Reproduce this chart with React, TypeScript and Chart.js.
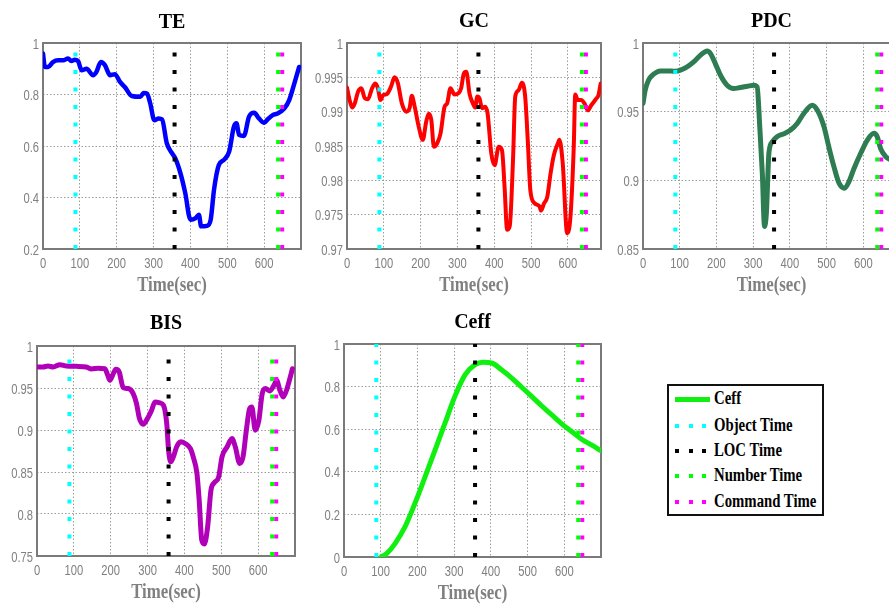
import React, { useEffect, useRef } from "react";
import { Chart, registerables } from "chart.js";
Chart.register(...registerables);

// ---------- data ----------
const TE_T = [0, 5, 14, 27, 41, 55, 68, 77, 86, 95, 105, 118, 136, 145, 157, 168, 182, 195, 209, 223, 241, 264, 273, 282, 291, 302, 314, 323, 336, 350, 359, 373, 386, 400, 414, 423, 429, 445, 455, 464, 477, 491, 505, 518, 525, 532, 545, 559, 573, 586, 600, 609, 623, 636, 655, 668, 682, 695];
const TE_V = [0.959, 0.907, 0.907, 0.926, 0.933, 0.933, 0.94, 0.93, 0.935, 0.93, 0.894, 0.9, 0.875, 0.888, 0.926, 0.914, 0.875, 0.879, 0.849, 0.827, 0.794, 0.791, 0.806, 0.804, 0.765, 0.7, 0.707, 0.703, 0.61, 0.572, 0.552, 0.494, 0.417, 0.314, 0.32, 0.333, 0.288, 0.29, 0.314, 0.43, 0.526, 0.546, 0.578, 0.675, 0.688, 0.643, 0.639, 0.714, 0.729, 0.707, 0.69, 0.703, 0.72, 0.726, 0.746, 0.778, 0.843, 0.907];

const GC_T = [0, 7, 14, 21, 30, 39, 48, 57, 68, 77, 84, 91, 98, 109, 120, 129, 138, 149, 161, 170, 176, 184, 194, 206, 215, 222, 229, 236, 245, 254, 265, 272, 281, 292, 303, 310, 317, 324, 333, 342, 348, 354, 360, 367, 375, 382, 392, 401, 412, 421, 428, 435, 442, 451, 457, 466, 475, 484, 491, 498, 509, 523, 527, 535, 544, 553, 562, 573, 577, 586, 598, 607, 616, 620, 627, 636, 645, 654, 663, 677, 683, 689];
const GC_V = [0.9935, 0.9917, 0.9906, 0.9912, 0.9929, 0.9934, 0.992, 0.9918, 0.9934, 0.9941, 0.9934, 0.9917, 0.9924, 0.9926, 0.9937, 0.995, 0.9942, 0.9912, 0.99, 0.9905, 0.9923, 0.9907, 0.988, 0.9859, 0.9885, 0.9897, 0.9888, 0.9849, 0.9854, 0.9868, 0.9907, 0.9912, 0.9934, 0.9925, 0.9927, 0.9934, 0.9955, 0.9958, 0.9926, 0.9912, 0.9906, 0.9922, 0.9919, 0.9905, 0.9907, 0.9897, 0.9839, 0.9822, 0.9849, 0.9844, 0.9791, 0.9728, 0.9733, 0.983, 0.9922, 0.9931, 0.9942, 0.9922, 0.9859, 0.9786, 0.9767, 0.9762, 0.9756, 0.9766, 0.9776, 0.981, 0.9837, 0.9854, 0.9859, 0.9825, 0.9723, 0.9747, 0.9849, 0.9925, 0.9917, 0.9917, 0.9912, 0.9902, 0.9909, 0.9919, 0.9924, 0.9941];

const PDC_T = [0, 6, 15, 29, 47, 65, 88, 102, 120, 138, 156, 175, 184, 197, 211, 229, 247, 265, 284, 302, 311, 318, 325, 331, 336, 343, 352, 365, 384, 402, 420, 438, 461, 475, 493, 506, 520, 534, 549, 561, 575, 593, 611, 629, 638, 647, 661, 672, 690];
const PDC_V = [0.956, 0.9656, 0.9729, 0.9773, 0.9797, 0.9797, 0.9794, 0.9802, 0.9826, 0.9862, 0.991, 0.9942, 0.9923, 0.985, 0.9765, 0.9693, 0.9669, 0.9676, 0.9685, 0.9693, 0.968, 0.939, 0.905, 0.8664, 0.876, 0.92, 0.928, 0.9318, 0.934, 0.9366, 0.9414, 0.9487, 0.9547, 0.951, 0.939, 0.9245, 0.91, 0.898, 0.8943, 0.899, 0.9088, 0.9197, 0.9293, 0.9342, 0.9318, 0.9233, 0.9173, 0.9153, 0.913];

const BIS_T = [0, 16, 30, 44, 62, 80, 107, 134, 148, 166, 184, 192, 198, 205, 214, 223, 234, 248, 261, 270, 278, 288, 302, 311, 320, 334, 343, 352, 357, 363, 370, 379, 390, 402, 416, 425, 434, 440, 447, 454, 463, 472, 481, 493, 502, 516, 529, 538, 550, 559, 568, 577, 583, 592, 602, 611, 620, 632, 643, 650, 659, 668, 677, 686, 693];
const BIS_V = [0.975, 0.975, 0.9762, 0.975, 0.9778, 0.9762, 0.9758, 0.975, 0.9727, 0.9735, 0.973, 0.9651, 0.9592, 0.9651, 0.9723, 0.9691, 0.9505, 0.9493, 0.9433, 0.9315, 0.9136, 0.9069, 0.9156, 0.9235, 0.9334, 0.9322, 0.9295, 0.9077, 0.876, 0.8621, 0.868, 0.88, 0.8859, 0.8839, 0.878, 0.8661, 0.8483, 0.8166, 0.769, 0.7643, 0.7849, 0.8284, 0.8372, 0.8443, 0.8681, 0.88, 0.8899, 0.88, 0.8601, 0.868, 0.8998, 0.9255, 0.9275, 0.8998, 0.9116, 0.9433, 0.9493, 0.9465, 0.9533, 0.9592, 0.9473, 0.9394, 0.9473, 0.9612, 0.973];

const CEFF_T = [101, 116, 139, 166, 193, 221, 248, 275, 302, 330, 357, 379, 402, 429, 457, 484, 511, 538, 566, 593, 620, 647, 674, 700];
const CEFF_V = [0, 0.0157, 0.063, 0.141, 0.251, 0.377, 0.502, 0.628, 0.754, 0.856, 0.903, 0.914, 0.911, 0.879, 0.84, 0.797, 0.754, 0.71, 0.667, 0.625, 0.589, 0.553, 0.526, 0.499];

const MARKER_NAMES = ["Object Time", "LOC Time", "Number Time", "Command Time"];
const MARKER_TIMES = [88, 357, 638, 649];
const MARKER_COLORS = ["#00ffff", "#000000", "#00ff00", "#ff00ff"];

const X_TICKS = [0, 100, 200, 300, 400, 500, 600];
const X_LABEL = "Time(sec)";

// ---------- styling / layout ----------
const SANS = "'Liberation Sans', Arial, sans-serif";
const SERIF = "'Liberation Serif', 'Times New Roman', serif";
const GRAY = "#808080";
const SQUEEZE = 0.8;

type Panel = {
  title: string; t: number[]; v: number[]; color: string; lw: number;
  yMin: number; yMax: number; yStep: number; xMax: number;
  box: number[]; area: number[]; titleY: number;
};

const PANELS: Panel[] = [
  { title: "TE", t: TE_T, v: TE_V, color: "#0000ff", lw: 4.5, yMin: 0.2, yMax: 1, yStep: 0.2, xMax: 700, box: [0, 0, 310, 298], area: [43, 43, 301, 249], titleY: 23 },
  { title: "GC", t: GC_T, v: GC_V, color: "#ff0000", lw: 4, yMin: 0.97, yMax: 1, yStep: 0.005, xMax: 690, box: [305, 0, 300, 298], area: [347, 43, 601, 249], titleY: 22 },
  { title: "PDC", t: PDC_T, v: PDC_V, color: "#2e7d52", lw: 5, yMin: 0.85, yMax: 1, yStep: 0.05, xMax: 700, box: [600, 0, 305, 298], area: [643, 43, 900, 249], titleY: 22 },
  { title: "BIS", t: BIS_T, v: BIS_V, color: "#b000b8", lw: 5, yMin: 0.75, yMax: 1, yStep: 0.05, xMax: 700, box: [0, 300, 300, 306], area: [37, 346, 295, 556], titleY: 324 },
  { title: "Ceff", t: CEFF_T, v: CEFF_V, color: "#10f010", lw: 5, yMin: 0, yMax: 1, yStep: 0.2, xMax: 700, box: [300, 300, 310, 306], area: [344, 344, 601, 557], titleY: 323 },
];

const fmt = (v: number) => String(parseFloat(Number(v).toFixed(4)));

function squeezed(ctx: CanvasRenderingContext2D, s: string, x: number, y: number, k: number) {
  ctx.save();
  ctx.translate(x, y);
  ctx.scale(k, 1);
  ctx.fillText(s, 0, 0);
  ctx.restore();
}

const framePlugin = {
  id: "frame",
  beforeDatasetsDraw(chart: any) {
    const { ctx, chartArea: a } = chart;
    ctx.save();
    ctx.strokeStyle = "#7a7a7a";
    ctx.lineWidth = 2;
    ctx.strokeRect(a.left, a.top, a.right - a.left, a.bottom - a.top);
    ctx.restore();
  },
  afterDraw(chart: any, _args: any, opts: any) {
    const { ctx, chartArea: a, scales } = chart;
    const xs = scales.x, ys = scales.y;
    ctx.save();
    // tick labels
    ctx.fillStyle = GRAY;
    ctx.font = `14px ${SANS}`;
    ctx.textBaseline = "alphabetic";
    ctx.textAlign = "center";
    for (const v of X_TICKS) {
      squeezed(ctx, String(v), xs.getPixelForValue(v), a.bottom + 19, SQUEEZE);
    }
    ctx.textAlign = "right";
    for (const tk of ys.ticks) {
      squeezed(ctx, fmt(tk.value), a.left - 4, ys.getPixelForValue(tk.value) + 5.5, SQUEEZE);
    }
    // axis title
    ctx.font = `bold 20px ${SERIF}`;
    ctx.textAlign = "center";
    squeezed(ctx, X_LABEL, (a.left + a.right) / 2, a.bottom + 41.5, 0.84);
    // panel title
    ctx.fillStyle = "#000";
    ctx.font = `bold 20px ${SERIF}`;
    ctx.textBaseline = "middle";
    ctx.fillText(opts.text, (a.left + a.right) / 2, opts.y);
    ctx.restore();
  },
};

function PanelChart({ p }: { p: Panel }) {
  const ref = useRef<HTMLCanvasElement | null>(null);
  useEffect(() => {
    const [bl, bt, bw, bh] = p.box;
    const [l, t, r, b] = p.area;
    const aL = l - bl, aT = t - bt, aR = r - bl, aB = b - bt;
    const xH = 8;
    const gridStyle = { color: "#9c9c9c", drawTicks: false, lineWidth: 1 };
    const borderStyle = { display: false, dash: [1.5, 2] };
    const yTicks: number[] = [];
    for (let v = p.yMin; v <= p.yMax + 1e-9; v += p.yStep) yTicks.push(parseFloat(v.toFixed(4)));
    const chart = new Chart(ref.current as HTMLCanvasElement, {
      type: "line",
      data: {
        datasets: [
          ...MARKER_TIMES.map((mt, i) => ({
            label: MARKER_NAMES[i],
            data: [{ x: mt, y: p.yMin }, { x: mt, y: p.yMax }],
            borderColor: MARKER_COLORS[i],
            borderWidth: 4,
            borderDash: [4, 13.5],
            borderCapStyle: "butt",
            pointRadius: 0,
            tension: 0,
            order: 0,
          })),
          {
            label: p.title,
            data: p.t.map((x, i) => ({ x, y: p.v[i] })),
            borderColor: p.color,
            borderWidth: p.lw,
            pointRadius: 0,
            cubicInterpolationMode: "monotone",
            borderJoinStyle: "round",
            borderCapStyle: "round",
            order: 1,
          },
        ],
      } as any,
      options: {
        animation: false,
        responsive: false,
        maintainAspectRatio: false,
        devicePixelRatio: 1,
        events: [],
        layout: { autoPadding: false, padding: { left: 0, top: aT, right: bw - aR, bottom: bh - aB - xH } },
        plugins: {
          legend: { display: false },
          tooltip: { enabled: false },
          frame: { text: p.title, y: p.titleY - bt },
        } as any,
        scales: {
          x: {
            type: "linear",
            min: 0,
            max: p.xMax,
            afterFit: (s: any) => { s.height = xH; },
            afterBuildTicks: (s: any) => { s.ticks = X_TICKS.map((v) => ({ value: v })); },
            ticks: { display: false },
            grid: gridStyle,
            border: borderStyle,
          },
          y: {
            type: "linear",
            min: p.yMin,
            max: p.yMax,
            afterFit: (s: any) => { s.width = aL; },
            afterBuildTicks: (s: any) => { s.ticks = yTicks.map((v) => ({ value: v })); },
            ticks: { display: false },
            grid: gridStyle,
            border: borderStyle,
          },
        },
      } as any,
      plugins: [framePlugin as any],
    });
    return () => chart.destroy();
  }, [p]);
  const [bl, bt, bw, bh] = p.box;
  return (
    <canvas
      ref={ref}
      width={bw}
      height={bh}
      style={{ position: "absolute", left: bl, top: bt, width: bw, height: bh }}
    />
  );
}

const LEGEND_LABELS = ["Ceff", ...MARKER_NAMES];
const LEGEND_COLORS = ["#10f010", ...MARKER_COLORS];

function Legend() {
  const rowCenters = [13, 40, 65, 90, 116];
  return (
    <div
      style={{
        position: "absolute", left: 667, top: 384, width: 157, height: 132,
        border: "2px solid #111", boxSizing: "border-box", background: "#fff",
      }}
    >
      {LEGEND_LABELS.map((lab, i) => (
        <div key={lab} style={{ position: "absolute", left: 0, top: rowCenters[i] - 11, height: 22, width: 150 }}>
          {i === 0 ? (
            <div style={{ position: "absolute", left: 6, top: 9, width: 35, height: 5, background: LEGEND_COLORS[i] }} />
          ) : (
            [0, 1, 2].map((k) => (
              <div key={k} style={{ position: "absolute", left: 6 + k * 13.5, top: 9, width: 4, height: 4, background: LEGEND_COLORS[i] }} />
            ))
          )}
          <span
            style={{
              position: "absolute", left: 45, top: 0, lineHeight: "22px", whiteSpace: "nowrap",
              font: `bold 18px ${SERIF}`, color: "#000",
              transform: "scaleX(0.82)", transformOrigin: "0 50%",
            }}
          >
            {lab}
          </span>
        </div>
      ))}
    </div>
  );
}

export default function App() {
  return (
    <div style={{ position: "fixed", left: 0, top: 0, width: 889, height: 606, overflow: "hidden", background: "#fff" }}>
      {PANELS.map((p) => (
        <PanelChart key={p.title} p={p} />
      ))}
      <Legend />
    </div>
  );
}
